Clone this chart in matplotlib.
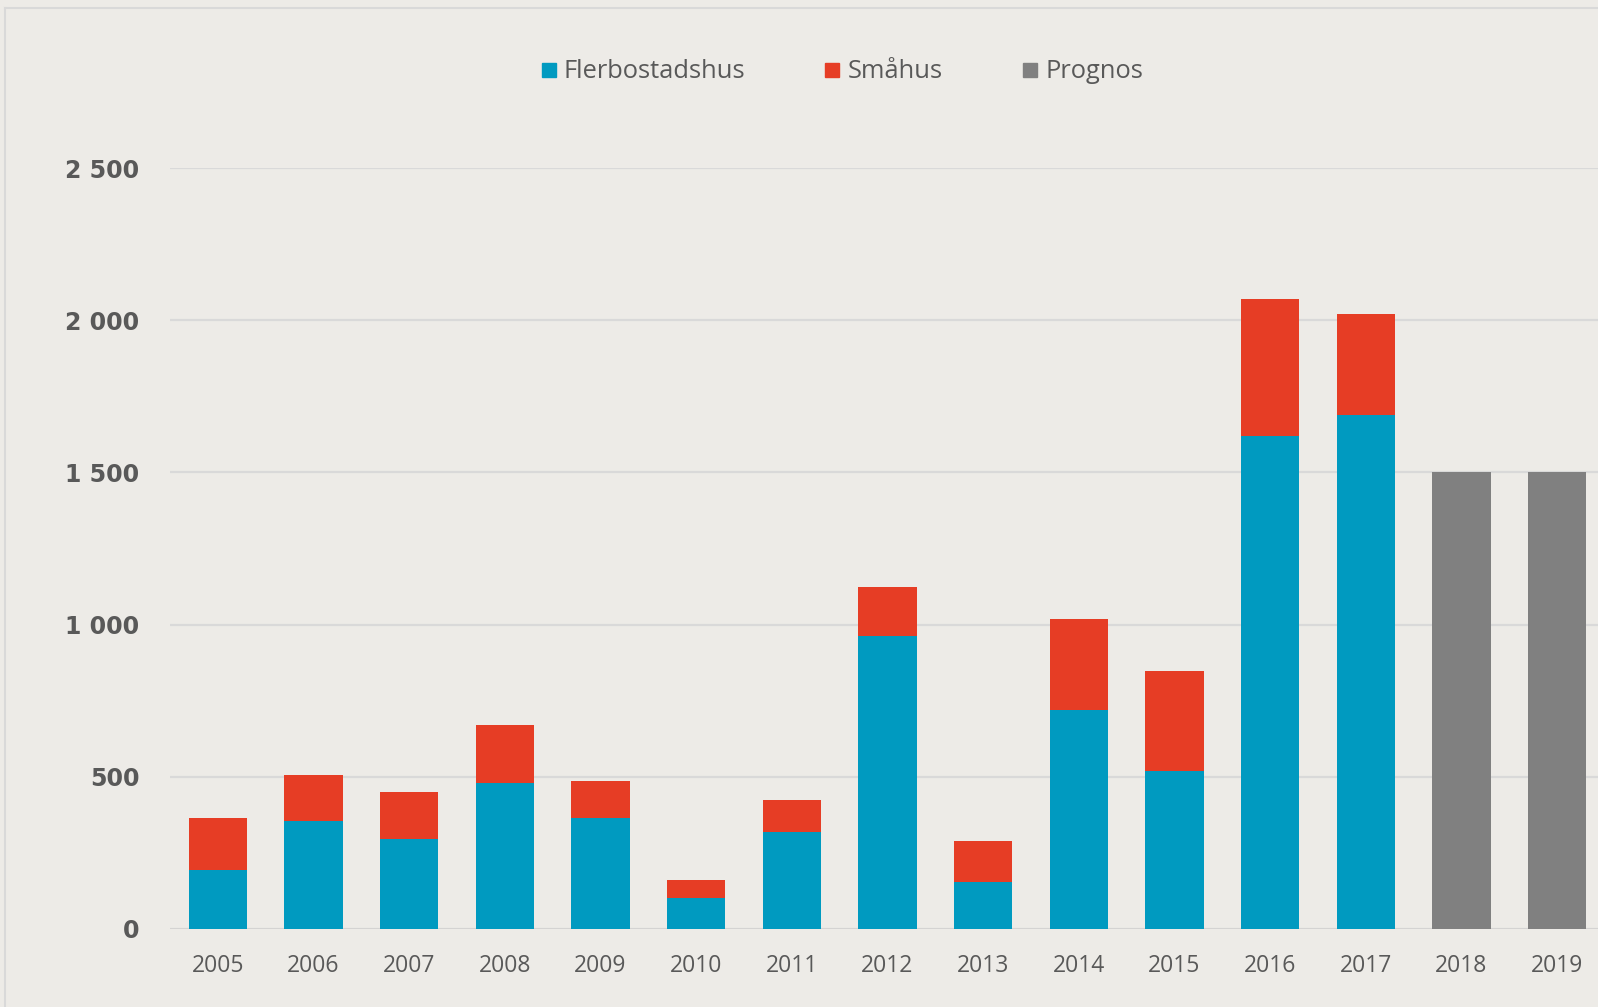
import matplotlib
matplotlib.use("Agg")
import matplotlib.pyplot as plt
from matplotlib.lines import Line2D
import numpy as np

years = ["2005", "2006", "2007", "2008", "2009", "2010", "2011", "2012",
         "2013", "2014", "2015", "2016", "2017", "2018", "2019"]
flerbostadshus = [195, 355, 297, 480, 364, 103, 318, 964, 156, 718, 519, 1619, 1688, 0, 0]
smahus = [170, 152, 154, 190, 122, 58, 106, 159, 133, 300, 330, 450, 333, 0, 0]
prognos = [0, 0, 0, 0, 0, 0, 0, 0, 0, 0, 0, 0, 0, 1500, 1500]
yticks = [0, 500, 1000, 1500, 2000, 2500]
ytick_labels = ["0", "500", "1 000", "1 500", "2 000", "2 500"]

BG = "#EDEBE7"
BLUE = "#009AC0"
RED = "#E63D25"
GRAY = "#808080"
TXT = "#595959"

W, H = 1598, 1007
fig = plt.figure(figsize=(W / 100, H / 100), dpi=100, facecolor=BG)
ax = fig.add_axes([170 / W, (H - 929) / H, (1605 - 170) / W, (929 - 168) / H])
ax.set_facecolor(BG)

x = np.arange(len(years))
bw = 0.61
ax.bar(x, flerbostadshus, width=bw, color=BLUE, zorder=3)
ax.bar(x, smahus, width=bw, bottom=flerbostadshus, color=RED, zorder=3)
ax.bar(x, prognos, width=bw, color=GRAY, zorder=3)

ax.set_xlim(-0.5, len(years) - 0.5)
ax.set_ylim(0, 2500)
ax.set_yticks(yticks)
ax.set_yticklabels(ytick_labels, fontfamily="DejaVu Sans", fontweight="bold",
                   fontsize=17, color=TXT)
ax.set_xticks(x)
ax.set_xticklabels(years, fontfamily="Open Sans", fontsize=16.5, color=TXT)
ax.tick_params(axis="y", length=0, pad=22)
ax.tick_params(axis="x", length=0, pad=18)
ax.yaxis.grid(True, color="#D9D9D9", linewidth=1.6, zorder=0)
ax.set_axisbelow(True)
for s in ax.spines.values():
    s.set_visible(False)
ax.axhline(0, color="#D4D3D2", linewidth=2, zorder=2)

handles = [
    Line2D([], [], marker="s", ls="", color=BLUE, markersize=10.5),
    Line2D([], [], marker="s", ls="", color=RED, markersize=10.5),
    Line2D([], [], marker="s", ls="", color=GRAY, markersize=10.5),
]
leg = fig.legend(handles, ["Flerbostadshus", "Småhus", "Prognos"], ncol=3,
                 loc="center", bbox_to_anchor=(842 / W, 1 - 72 / H),
                 frameon=False, handlelength=0.6, handletextpad=0.3,
                 columnspacing=3.1,
                 prop={"family": "Open Sans", "size": 18.4})
for t in leg.get_texts():
    t.set_color(TXT)

# figure border (top and left visible)
fig.add_artist(Line2D([5 / W, 1], [1 - 8 / H, 1 - 8 / H], color="#D9D9D9",
                      linewidth=1.5, transform=fig.transFigure))
fig.add_artist(Line2D([5 / W, 5 / W], [0, 1 - 8 / H], color="#D9D9D9",
                      linewidth=1.5, transform=fig.transFigure))

fig.savefig("out.png", dpi=100, facecolor=BG)
